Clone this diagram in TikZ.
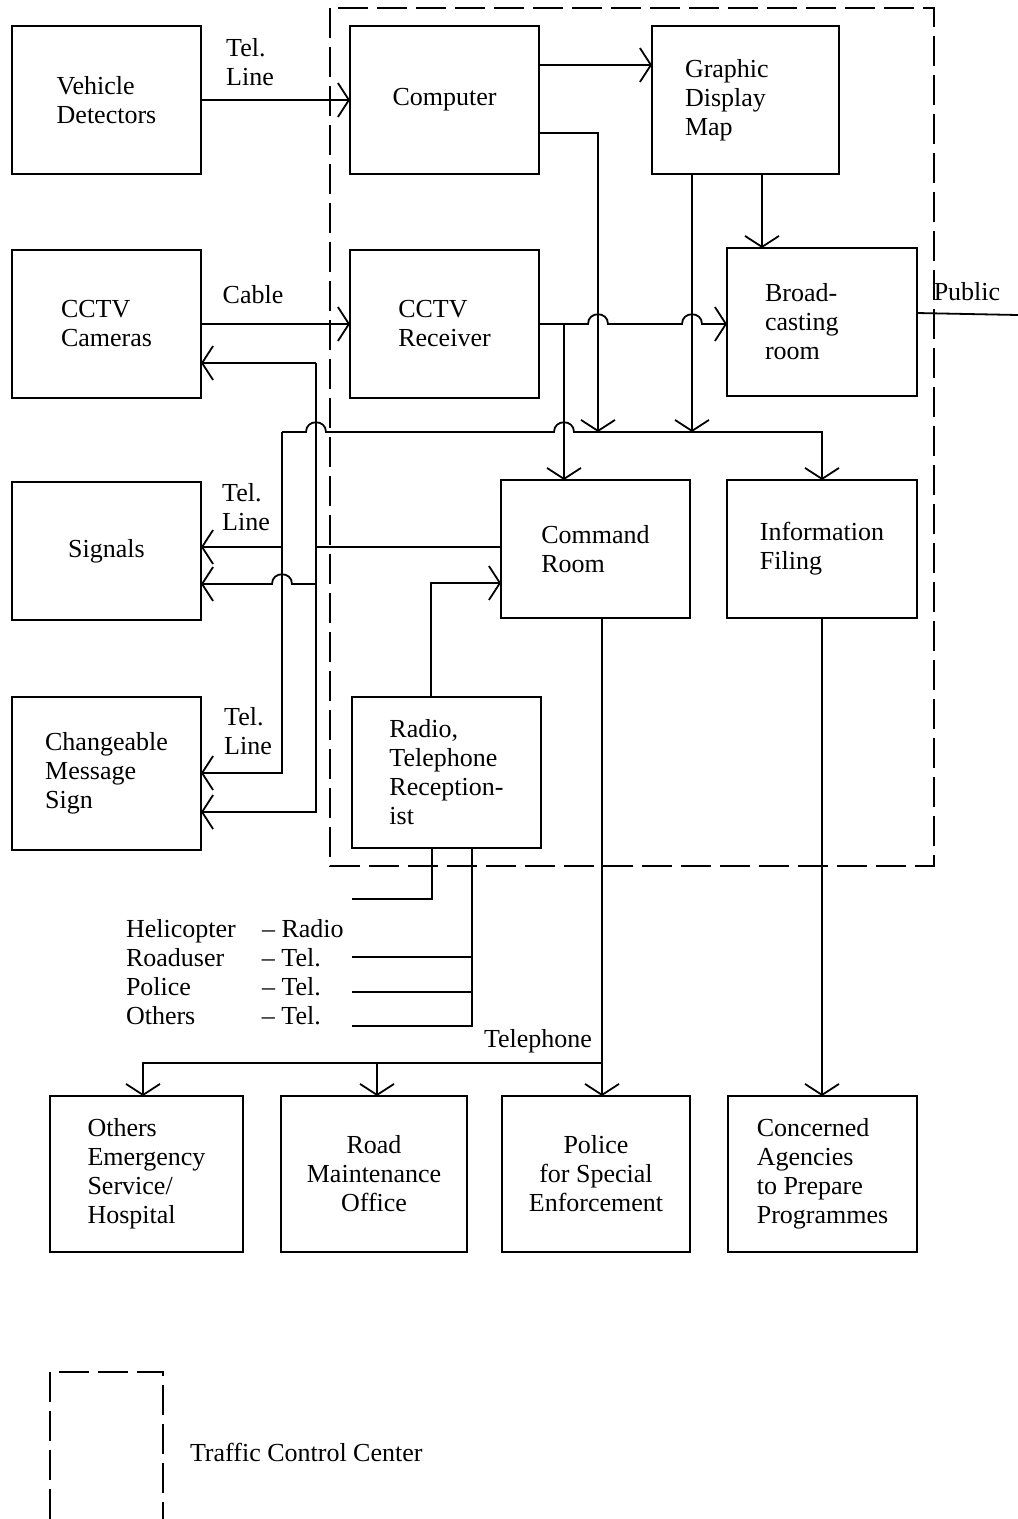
\documentclass[tikz,border=0pt]{standalone}
\usepackage{fontspec}
\setmainfont{Liberation Serif}
\usetikzlibrary{arrows.meta}
\begin{document}
\begin{tikzpicture}[x=1pt,y=-1pt,
  every node/.style={font=\fontsize{26}{29}\selectfont, inner sep=0pt, outer sep=0pt},
  box/.style={draw, line width=2.6pt, minimum width=189pt, minimum height=148pt, align=left},
  lbl/.style={align=left},
  conn/.style={line width=1.8pt},
  arr/.style={conn, -{Straight Barb[length=11pt,width=34pt]}},
  tcc/.style={line width=2.2pt, dash pattern=on 30pt off 9pt},
  hump/.style args={#1/#2}{insert path={-- ({#1-10},#2) .. controls ({#1-10},{#2-13}) and ({#1+10},{#2-13}) .. ({#1+10},#2)}},
  humpL/.style args={#1/#2}{insert path={-- ({#1+10},#2) .. controls ({#1+10},{#2-13}) and ({#1-10},{#2-13}) .. ({#1-10},#2)}}]
\useasboundingbox[fill=white] (0,0) rectangle (1018,1519);

% traffic control center boundary
\draw[tcc] (330,8) rectangle (934,866);

% boxes
\node[box] (vd)   at (106.5,100) {Vehicle\\Detectors};
\node[box] (comp) at (444.5,100) {Computer};
\node[box, minimum width=187pt, text width=121pt] (gdm) at (745.5,100) {Graphic\\Display\\Map};
\node[box] (cam)  at (106.5,324) {CCTV\\Cameras};
\node[box] (rcv)  at (444.5,324) {CCTV\\Receiver};
\node[box, minimum width=190pt, text width=114pt] (brd) at (822,322) {Broad-\\casting\\room};
\node[box, minimum height=138pt] (sig) at (106.5,551) {Signals};
\node[box, minimum height=138pt] (cmd) at (595.5,549) {Command\\Room};
\node[box, minimum width=190pt, minimum height=138pt] (inf) at (822,549) {Information\\Filing};
\node[box, minimum height=153pt] (cms) at (106.5,773.5) {Changeable\\Message\\Sign};
\node[box, minimum height=151pt] (rad) at (446.5,772.5) {Radio,\\Telephone\\Reception-\\ist};
\node[box, minimum width=193pt, minimum height=156pt] (oth) at (146.5,1174) {Others\\Emergency\\Service/\\Hospital};
\node[box, minimum width=186pt, minimum height=156pt, align=center] (road) at (374,1174) {Road\\Maintenance\\Office};
\node[box, minimum width=188pt, minimum height=156pt, align=center] (pol) at (596,1174) {Police\\for Special\\Enforcement};
\node[box, minimum width=189pt, minimum height=156pt] (agc) at (822.5,1174) {Concerned\\Agencies\\to Prepare\\Programmes};

% junction coordinates
\coordinate (cA) at (282,432);
\coordinate (cB) at (316,363);
\coordinate (b1) at (598,432);
\coordinate (b2) at (692,432);
\coordinate (j1) at (564,324);
\coordinate (hl1) at (352,899);
\coordinate (hl2) at (352,957);
\coordinate (hl3) at (352,992);
\coordinate (hl4) at (352,1026);
\coordinate (tel) at (602,1063);
\coordinate (pub) at (1018,315);

% top row
\draw[arr] (vd.east) -- (comp.west);
\draw[arr] (comp.east |- 0,65) -- (gdm.west |- 0,65);
\draw[arr] (comp.east |- 0,133) -| (b1);
\draw[arr] (gdm.south -| 692,0) -- (b2);
\draw[arr] (gdm.south -| 762,0) -- (brd.north -| 762,0);

% CCTV
\draw[arr] (cam.east |- 0,324) -- (rcv.west);
\draw[arr] (rcv.east) [hump=598/324] [hump=692/324] -- (brd.west |- rcv.east);
\draw[arr] (j1) -- (cmd.north -| j1);

% bus from computer / display
\draw[arr] (cA) [hump=316/432] [hump=564/432] -| (inf.north);
\draw[arr] (cA) |- (cms.east |- 0,773);
\draw[arr] (cA |- 0,547) -- (sig.east |- 0,547);

% command room to field devices
\draw[arr] (cB) -- (cam.east |- cB);
\draw[arr] (cB) |- (cms.east |- 0,812);
\draw[conn] (cmd.west |- 0,547) -- (cB |- 0,547);
\draw[arr] (cB |- 0,584) [humpL=282/584] -- (sig.east |- 0,584);

% radio / telephone receptionist
\draw[arr] (rad.north -| 431,0) |- (cmd.west |- 0,583);
\draw[conn] (rad.south -| 432,0) |- (hl1);
\draw[conn] (rad.south -| 472,0) |- (hl4);
\draw[conn] (hl2) -- (hl2 -| 472,0);
\draw[conn] (hl3) -- (hl3 -| 472,0);

% outputs
\draw[arr] (cmd.south -| 602,0) -- (pol.north -| 602,0);
\draw[arr] (tel) -| (oth.north -| 143,0);
\draw[arr] (tel -| 377,0) -- (road.north -| 377,0);
\draw[arr] (inf.south) -- (agc.north -| inf.south);
\draw[conn] (brd.east |- 0,313) -- (pub);

% labels
\node[lbl] (l1) at (250,62) {Tel.\\Line};
\node (l2) at (253,295) {Cable};
\node[lbl] (l3) at (246,507) {Tel.\\Line};
\node[lbl] (l4) at (248,731) {Tel.\\Line};
\node (l5) at (967,292) {Public};
\node (l6) at (538,1041) {Telephone};
\node[anchor=north west] (hel) at (126,917) {\begin{tabular}{@{}p{136pt}@{}l@{}}Helicopter & -- Radio\\Roaduser & -- Tel.\\Police & -- Tel.\\Others & -- Tel.\end{tabular}};

% legend
\draw[tcc] (50,1519) -- (50,1372) -- (163,1372) -- (163,1519);
\node[anchor=west] (leg) at (190,1452) {Traffic Control Center};
\end{tikzpicture}
\end{document}
